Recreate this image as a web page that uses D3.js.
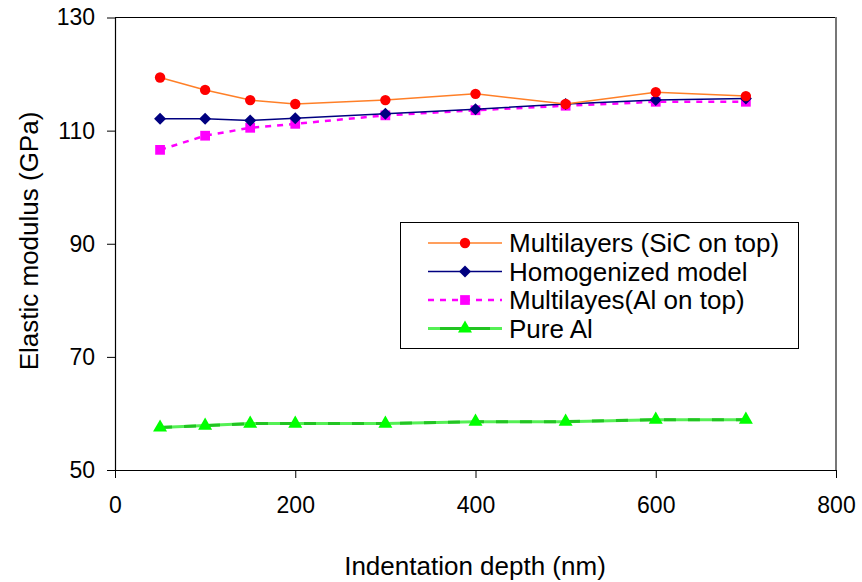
<!DOCTYPE html>
<html>
<head>
<meta charset="utf-8">
<title>Elastic modulus vs indentation depth</title>
<script src="https://cdn.jsdelivr.net/npm/d3@7"></script>
<style>
  body { margin: 0; background: #fff; }
  svg text { font-family: "Liberation Sans", Arial, sans-serif; fill: #000; }
</style>
</head>
<body>
<div id="chart"></div>
<script>
// data
var depth = [50, 100, 150, 200, 300, 400, 500, 600, 700];
var sicTop = [119.4, 117.2, 115.4, 114.7, 115.4, 116.5, 114.7, 116.8, 116.1];
var homogenized = [112.1, 112.1, 111.8, 112.2, 113.0, 113.8, 114.7, 115.4, 115.7];
var alTop = [106.6, 109.1, 110.5, 111.2, 112.7, 113.6, 114.4, 115.1, 115.1];
var pureAl = [57.5, 57.85, 58.2, 58.2, 58.2, 58.55, 58.55, 58.9, 58.9];
var seriesNames = ["Multilayers (SiC on top)", "Homogenized model", "Multilayes(Al on top)", "Pure Al"];
var xTicks = [0, 200, 400, 600, 800];
var yTicks = [50, 70, 90, 110, 130];

var W = 862, H = 582;
var svg = d3.select("#chart").append("svg").attr("width", W).attr("height", H);

var x = d3.scaleLinear().domain([0, 800]).range([115, 836]);
var y = d3.scaleLinear().domain([50, 130]).range([470, 17.5]);

// plot frame (top + right)
svg.append("line").attr("x1", 115).attr("x2", 836).attr("y1", 17.5).attr("y2", 17.5)
  .attr("stroke", "#000").attr("stroke-width", 1);
svg.append("line").attr("x1", 836).attr("x2", 836).attr("y1", 17).attr("y2", 470)
  .attr("stroke", "#777").attr("stroke-width", 2);

var xAxis = svg.append("g").attr("transform", "translate(0,470)")
  .call(d3.axisBottom(x).tickValues(xTicks).tickSize(8).tickPadding(14).tickSizeOuter(0));
var yAxis = svg.append("g").attr("transform", "translate(115,0)")
  .call(d3.axisLeft(y).tickValues(yTicks).tickSize(8).tickPadding(12).tickSizeOuter(0));
[xAxis, yAxis].forEach(function (g) {
  g.select(".domain").attr("stroke", "#000").attr("stroke-width", 1.2);
  g.selectAll(".tick line").attr("stroke", "#000");
  g.selectAll(".tick text").style("font-size", "23px")
    .style("font-family", "Liberation Sans, Arial, sans-serif").attr("fill", "#000");
});
xAxis.selectAll(".tick text").attr("dy", "0.9em");
yAxis.selectAll(".tick text").attr("x", -20);

svg.append("text").attr("x", 475).attr("y", 566).attr("text-anchor", "middle")
  .attr("dominant-baseline", "central").style("font-size", "26px").text("Indentation depth (nm)");
svg.append("text").attr("transform", "translate(29,241) rotate(-90)").attr("text-anchor", "middle")
  .attr("dominant-baseline", "central").style("font-size", "26px").text("Elastic modulus (GPa)");

var line = d3.line().x(function (d) { return x(d[0]); }).y(function (d) { return y(d[1]); });
function pts(vals) { return depth.map(function (d, i) { return [d, vals[i]]; }); }

// square turned 45 degrees, like the Excel diamond marker
var squareDiamond = {
  draw: function (ctx, size) {
    var r = Math.sqrt(size / 2);
    ctx.moveTo(0, -r); ctx.lineTo(r, 0); ctx.lineTo(0, r); ctx.lineTo(-r, 0); ctx.closePath();
  }
};

var series = [
  { name: seriesNames[0], vals: sicTop, stroke: "#FF7F27", width: 1.5, dash: null, marker: "circle", fill: "#FF0000", size: 85 },
  { name: seriesNames[1], vals: homogenized, stroke: "#000080", width: 1.5, dash: null, marker: "diamond", fill: "#000080", size: 72 },
  { name: seriesNames[2], vals: alTop, stroke: "#FF00FF", width: 2.5, dash: "6,6", marker: "square", fill: "#FF00FF", size: 95 },
  { name: seriesNames[3], vals: pureAl, stroke: "#55F055", width: 3, dash: null, overlay: "#22C422", marker: "triangle", fill: "#00FF00", size: 85 }
];
var symbols = { circle: d3.symbolCircle, diamond: squareDiamond, square: d3.symbolSquare, triangle: d3.symbolTriangle };

// draw in back-to-front order like the original
series.slice().reverse().forEach(function (s) {
  var g = svg.append("g");
  var data = pts(s.vals);
  g.append("path").datum(data).attr("d", line).attr("fill", "none")
    .attr("stroke", s.stroke).attr("stroke-width", s.width).attr("stroke-dasharray", s.dash);
  if (s.overlay) {
    g.append("path").datum(data).attr("d", line).attr("fill", "none")
      .attr("stroke", s.overlay).attr("stroke-width", s.width).attr("stroke-dasharray", "12,12");
  }
  g.selectAll("path.m").data(data).enter().append("path").attr("class", "m")
    .attr("transform", function (d) { return "translate(" + x(d[0]) + "," + y(d[1]) + ")"; })
    .attr("d", d3.symbol().type(symbols[s.marker]).size(s.size)).attr("fill", s.fill);
});

// legend
var lg = svg.append("g");
lg.append("rect").attr("x", 400.5).attr("y", 222.5).attr("width", 398).attr("height", 126)
  .attr("fill", "#fff").attr("stroke", "#000").attr("stroke-width", 1);
series.forEach(function (s, i) {
  var cy = 243 + i * 28.5;
  var row = lg.append("g");
  var lx = d3.line();
  row.append("path").attr("d", lx([[428, cy], [502, cy]])).attr("fill", "none")
    .attr("stroke", s.stroke).attr("stroke-width", s.width).attr("stroke-dasharray", s.dash);
  if (s.overlay) {
    row.append("path").attr("d", lx([[440, cy], [490, cy]])).attr("fill", "none")
      .attr("stroke", s.overlay).attr("stroke-width", s.width);
  }
  row.append("path").attr("transform", "translate(465," + cy + ")")
    .attr("d", d3.symbol().type(symbols[s.marker]).size(s.size)).attr("fill", s.fill);
  row.append("text").attr("x", 509).attr("y", cy).attr("dominant-baseline", "central")
    .style("font-size", "26px").text(s.name);
});
</script>
</body>
</html>
